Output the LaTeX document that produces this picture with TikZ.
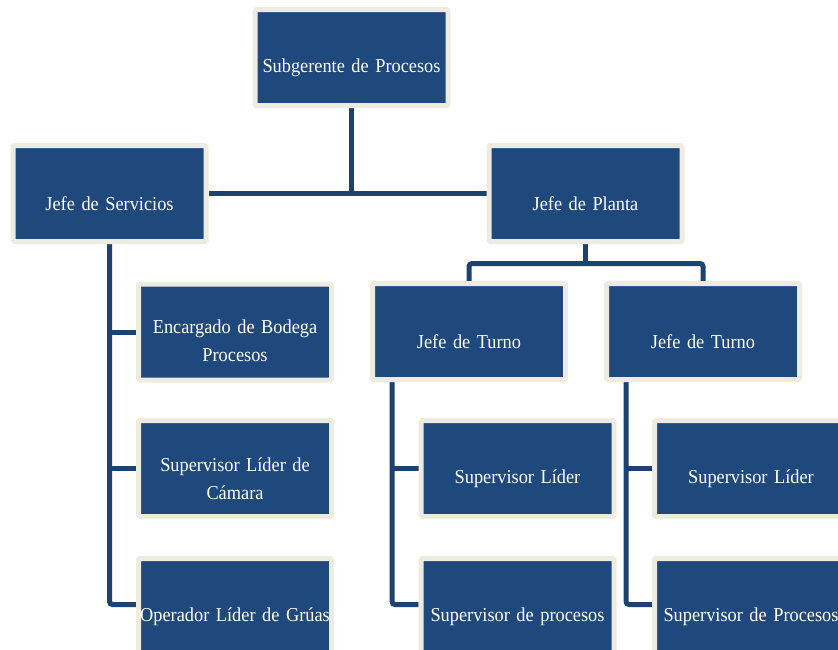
\documentclass[tikz,border=0pt]{standalone}
\usepackage{fontspec}
\newfontfamily\boxfont{Liberation Serif}[FakeStretch=0.93]
\usetikzlibrary{backgrounds}
\definecolor{boxblue}{HTML}{1F497D}
\definecolor{boxcream}{HTML}{EEECE1}
\definecolor{linkblue}{HTML}{1D4272}
\begin{document}
\begin{tikzpicture}[x=1pt,y=-1pt,
  orgbox/.style={draw=boxcream,fill=boxblue,line width=5pt,rounded corners=1.5pt,
    minimum width=193pt,minimum height=96pt,inner sep=0pt},
  lbl/.style={text=white,font=\boxfont\fontsize{19.7}{28.5}\selectfont,
    align=center,text width=200pt,inner sep=0pt},
  link/.style={draw=linkblue,line width=5pt,rounded corners=3pt}]
\useasboundingbox (0,0) rectangle (838,649);
% boxes
\node[orgbox] (sub) at (351.5,57.5) {};
\node[orgbox] (js)  at (109.5,193.5) {};
\node[orgbox] (jp)  at (585.5,193.5) {};
\node[orgbox] (enc) at (235,332) {};
\node[orgbox] (slc) at (235,468.5) {};
\node[orgbox] (op)  at (235,606.5) {};
\node[orgbox] (jt1) at (469,331.5) {};
\node[orgbox] (jt2) at (703,331.5) {};
\node[orgbox] (sl1) at (517.5,468.5) {};
\node[orgbox] (sp1) at (517.5,606.5) {};
\node[orgbox] (sl2) at (751,468.5) {};
\node[orgbox] (sp2) at (751,606.5) {};
% labels
\node[lbl] (tsub) at ([yshift=-10pt]sub.center) {Subgerente de Procesos};
\node[lbl] (tjs)  at ([yshift=-10pt]js.center) {Jefe de Servicios};
\node[lbl] (tjp)  at ([yshift=-10pt]jp.center) {Jefe de Planta};
\node[lbl] (tenc) at ([yshift=-9pt]enc.center) {Encargado de Bodega\\Procesos};
\node[lbl] (tslc) at ([yshift=-10pt]slc.center) {Supervisor Líder de\\Cámara};
\node[lbl] (top)  at ([yshift=-10pt]op.center) {Operador Líder de Grúas};
\node[lbl] (tjt1) at ([yshift=-10pt]jt1.center) {Jefe de Turno};
\node[lbl] (tjt2) at ([yshift=-10pt]jt2.center) {Jefe de Turno};
\node[lbl] (tsl1) at ([yshift=-10pt]sl1.center) {Supervisor Líder};
\node[lbl] (tsp1) at ([yshift=-10pt]sp1.center) {Supervisor de procesos};
\node[lbl] (tsl2) at ([yshift=-10pt]sl2.center) {Supervisor Líder};
\node[lbl] (tsp2) at ([yshift=-10pt]sp2.center) {Supervisor de Procesos};
% connectors
\coordinate (jpm) at ([yshift=-19.5pt]jp.south);
\coordinate (t1) at ([xshift=-77pt]jt1.south);
\coordinate (t2) at ([xshift=-77pt]jt2.south);
\begin{scope}[on background layer]
\draw[link] (js.east) -- (jp.west);
\draw[link] (sub.south) -- (sub.south |- js.east);
\draw[link] (js.south) |- ([yshift=2pt]op.west);
\draw[link] (js.south |- enc.west) -- (enc.west);
\draw[link] (js.south |- slc.west) -- (slc.west);
\draw[link] (jp.south) -- (jpm);
\draw[link] (jt1.north) |- (jpm) -| (jt2.north);
\draw[link] (t1) |- ([yshift=2pt]sp1.west);
\draw[link] (t1 |- sl1.west) -- (sl1.west);
\draw[link] (t2) |- ([yshift=2pt]sp2.west);
\draw[link] (t2 |- sl2.west) -- (sl2.west);
\end{scope}
\end{tikzpicture}
\end{document}
